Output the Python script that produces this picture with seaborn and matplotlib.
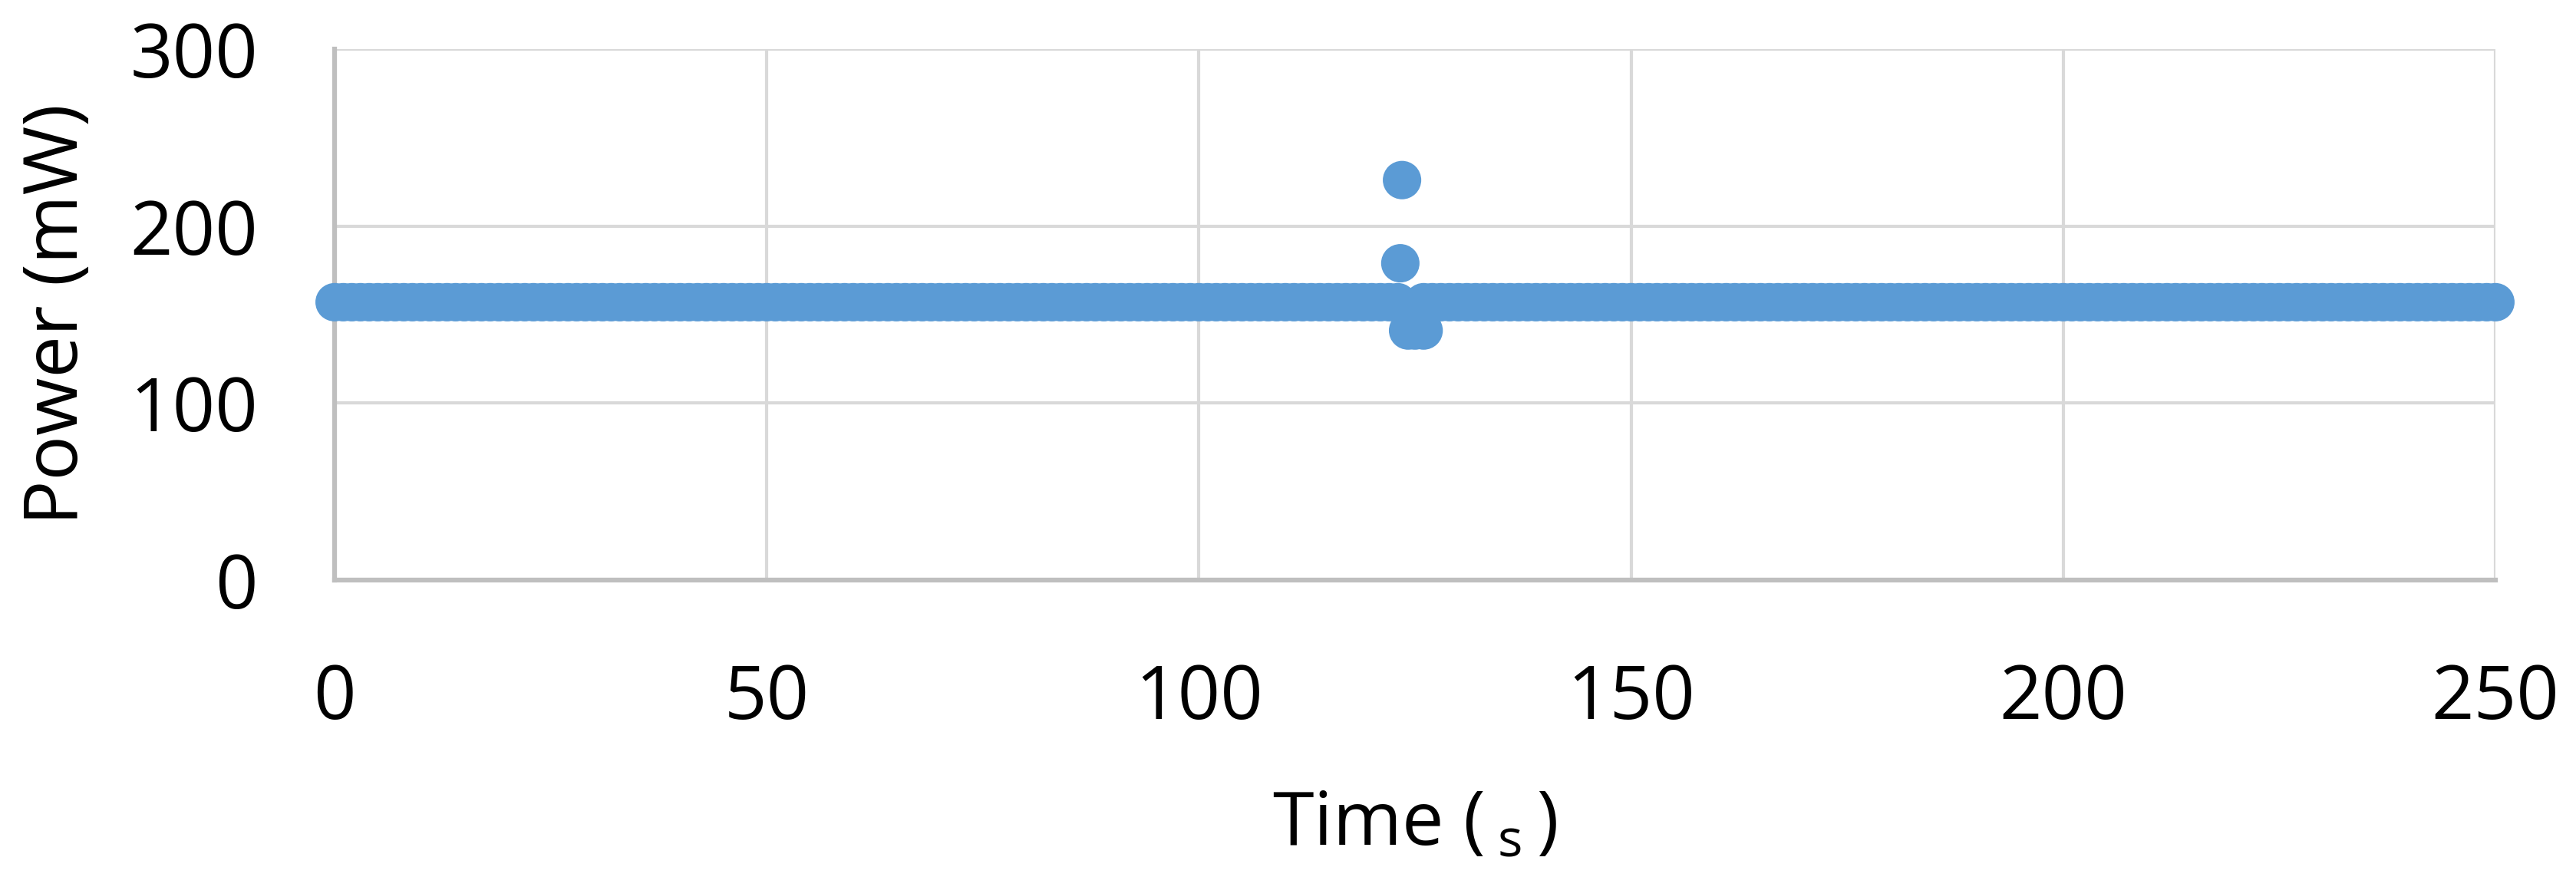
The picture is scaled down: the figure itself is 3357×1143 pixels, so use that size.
import numpy as np
import pandas as pd
import matplotlib
matplotlib.use("Agg")
import matplotlib.pyplot as plt
import seaborn as sns

# ---------------------------------------------------------
# Data
# ---------------------------------------------------------
# steady power level logged once a second over the run
sample_time_s = np.arange(0, 251, 1.0)
baseline_mw = 157.0

# short disturbance around t = 123-126 s
spike_time_s = [123.5, 123.3, 124.2, 125.0, 126.0]
spike_power_mw = [226.0, 179.0, 141.0, 141.0, 141.0]

x_ticks = [0, 50, 100, 150, 200, 250]
y_ticks = [0, 100, 200, 300]

base = pd.DataFrame({"time": sample_time_s, "power": baseline_mw})
base = base[~base["time"].isin([124.0, 125.0])]
spikes = pd.DataFrame({"time": spike_time_s, "power": spike_power_mw})
df = pd.concat([base, spikes], ignore_index=True)

# ---------------------------------------------------------
# Plot
# ---------------------------------------------------------
sns.set_style("white")
plt.rcParams["font.family"] = ["Open Sans", "DejaVu Sans"]
plt.rcParams["mathtext.fontset"] = "custom"
plt.rcParams["mathtext.rm"] = "Open Sans"
plt.rcParams["text.color"] = "black"
plt.rcParams["axes.labelcolor"] = "black"
plt.rcParams["xtick.color"] = "black"
plt.rcParams["ytick.color"] = "black"

fig = plt.figure(figsize=(33.57, 11.43), dpi=100)
ax = fig.add_axes([0.1299, 0.3386, 0.8388, 0.6054])

sns.scatterplot(data=df, x="time", y="power", ax=ax, s=1300,
                color="#5B9BD5", edgecolor="none", linewidth=0,
                clip_on=False, zorder=3)

ax.set_xlim(0, 250)
ax.set_ylim(0, 300)
ax.set_xticks(x_ticks)
ax.set_yticks(y_ticks)
ax.grid(True, color="#D9D9D9", linewidth=3)
ax.set_axisbelow(True)

for side in ["top", "right"]:
    ax.spines[side].set_visible(False)
for side in ["left", "bottom"]:
    ax.spines[side].set_color("#BFBFBF")
    ax.spines[side].set_linewidth(4.5)

ax.tick_params(axis="x", length=0, pad=77, labelsize=70)
ax.tick_params(axis="y", length=0, pad=72, labelsize=70)

ax.set_xlabel(r"Time ($\,{}_{\mathrm{s}}\,$)", fontsize=70)
ax.set_ylabel("Power (mW)", fontsize=70)
ax.xaxis.set_label_coords(0.5, -0.392)
ax.yaxis.set_label_coords(-0.111, 0.5)

plt.savefig("out.png", dpi=100)
plt.close()
